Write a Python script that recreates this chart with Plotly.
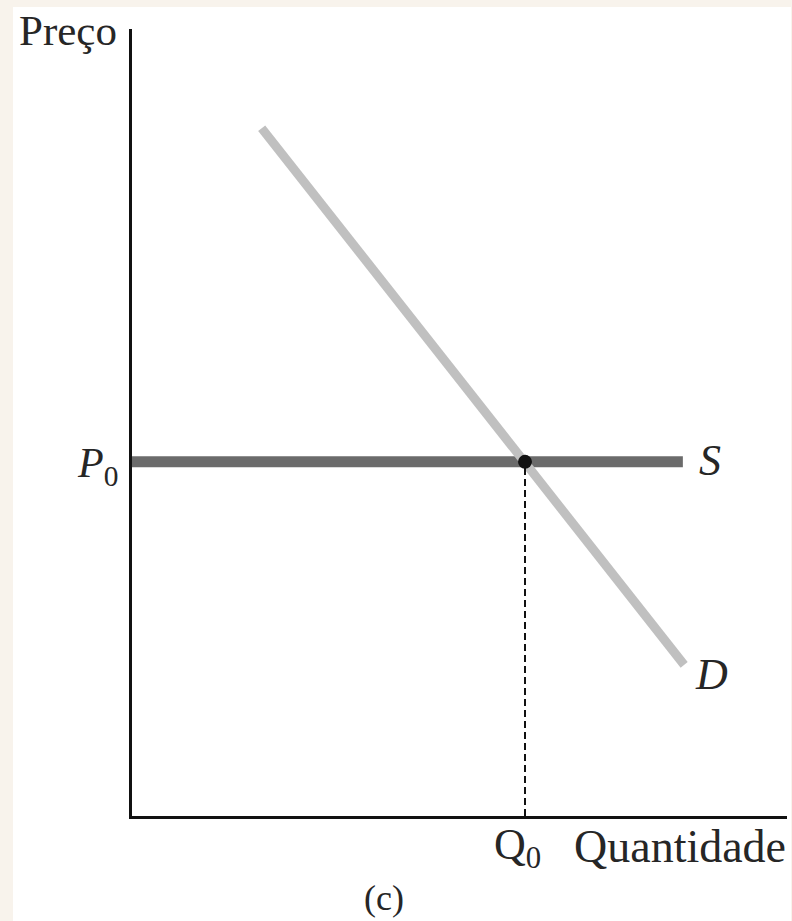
import plotly.graph_objects as go

# Economic diagram data (quantity, price units)
Q0 = 6.0
P0 = 4.5
demand_q = [1.98, 8.43]
demand_p = [8.74, 1.92]
supply_q = [0.0, 8.41]
supply_p = [P0, P0]
dash_q = [Q0, Q0]
dash_p = [0.0, P0]

FONT = "Liberation Serif, Times New Roman, serif"
TXT = "#262626"

# pixel geometry of plot area
L, R, T, B = 132, 787, 29, 816
W, H = R - L, B - T

def px(xp):
    return (xp - L) / W

def py(yp):
    return (B - yp) / H

fig = go.Figure()
fig.add_trace(go.Scatter(x=supply_q, y=supply_p, mode="lines",
                         line=dict(color="#6b6b6b", width=11), hoverinfo="skip"))
fig.add_trace(go.Scatter(x=demand_q, y=demand_p, mode="lines",
                         line=dict(color="#c0c0c0", width=9), hoverinfo="skip"))
fig.add_trace(go.Scatter(x=dash_q, y=dash_p, mode="lines",
                         line=dict(color="#111111", width=2, dash="7px,4px"), hoverinfo="skip"))
fig.add_trace(go.Scatter(x=[Q0], y=[P0], mode="markers",
                         marker=dict(color="#111111", size=14), hoverinfo="skip"))

def ann(text, x, y, size, xanchor="left", yanchor="middle"):
    fig.add_annotation(text=text, x=px(x), y=py(y), xref="paper", yref="paper",
                       showarrow=False, xanchor=xanchor, yanchor=yanchor,
                       font=dict(family=FONT, size=size, color=TXT))

ann("Preço", 17, 30, 43)
ann("<i>P</i><sub>0</sub>", 120, 466, 42, xanchor="right")
ann("<i>S</i>", 697, 460, 44)
ann("<i>D</i>", 693, 674, 44)
ann("Q<sub>0</sub>", 517, 848, 44, xanchor="center")
ann("Quantidade", 572, 846, 46)
ann("(c)", 384, 898, 36, xanchor="center")

fig.add_shape(type="rect", xref="paper", yref="paper",
              x0=px(13), x1=px(791), y0=py(925), y1=py(7),
              fillcolor="white", line=dict(width=0), layer="below")

fig.update_layout(
    width=792, height=921,
    margin=dict(l=L, r=792 - R, t=T, b=921 - B),
    paper_bgcolor="#f8f3ec", plot_bgcolor="white",
    showlegend=False,
    xaxis=dict(range=[0, 10], showgrid=False, zeroline=False, showticklabels=False,
               ticks="", showline=True, linecolor="#111111", linewidth=3, fixedrange=True),
    yaxis=dict(range=[0, 10], showgrid=False, zeroline=False, showticklabels=False,
               ticks="", showline=True, linecolor="#111111", linewidth=3, fixedrange=True),
)

fig.write_html("out.html", config={"displayModeBar": False},
               post_script="document.body.style.margin='0';")
